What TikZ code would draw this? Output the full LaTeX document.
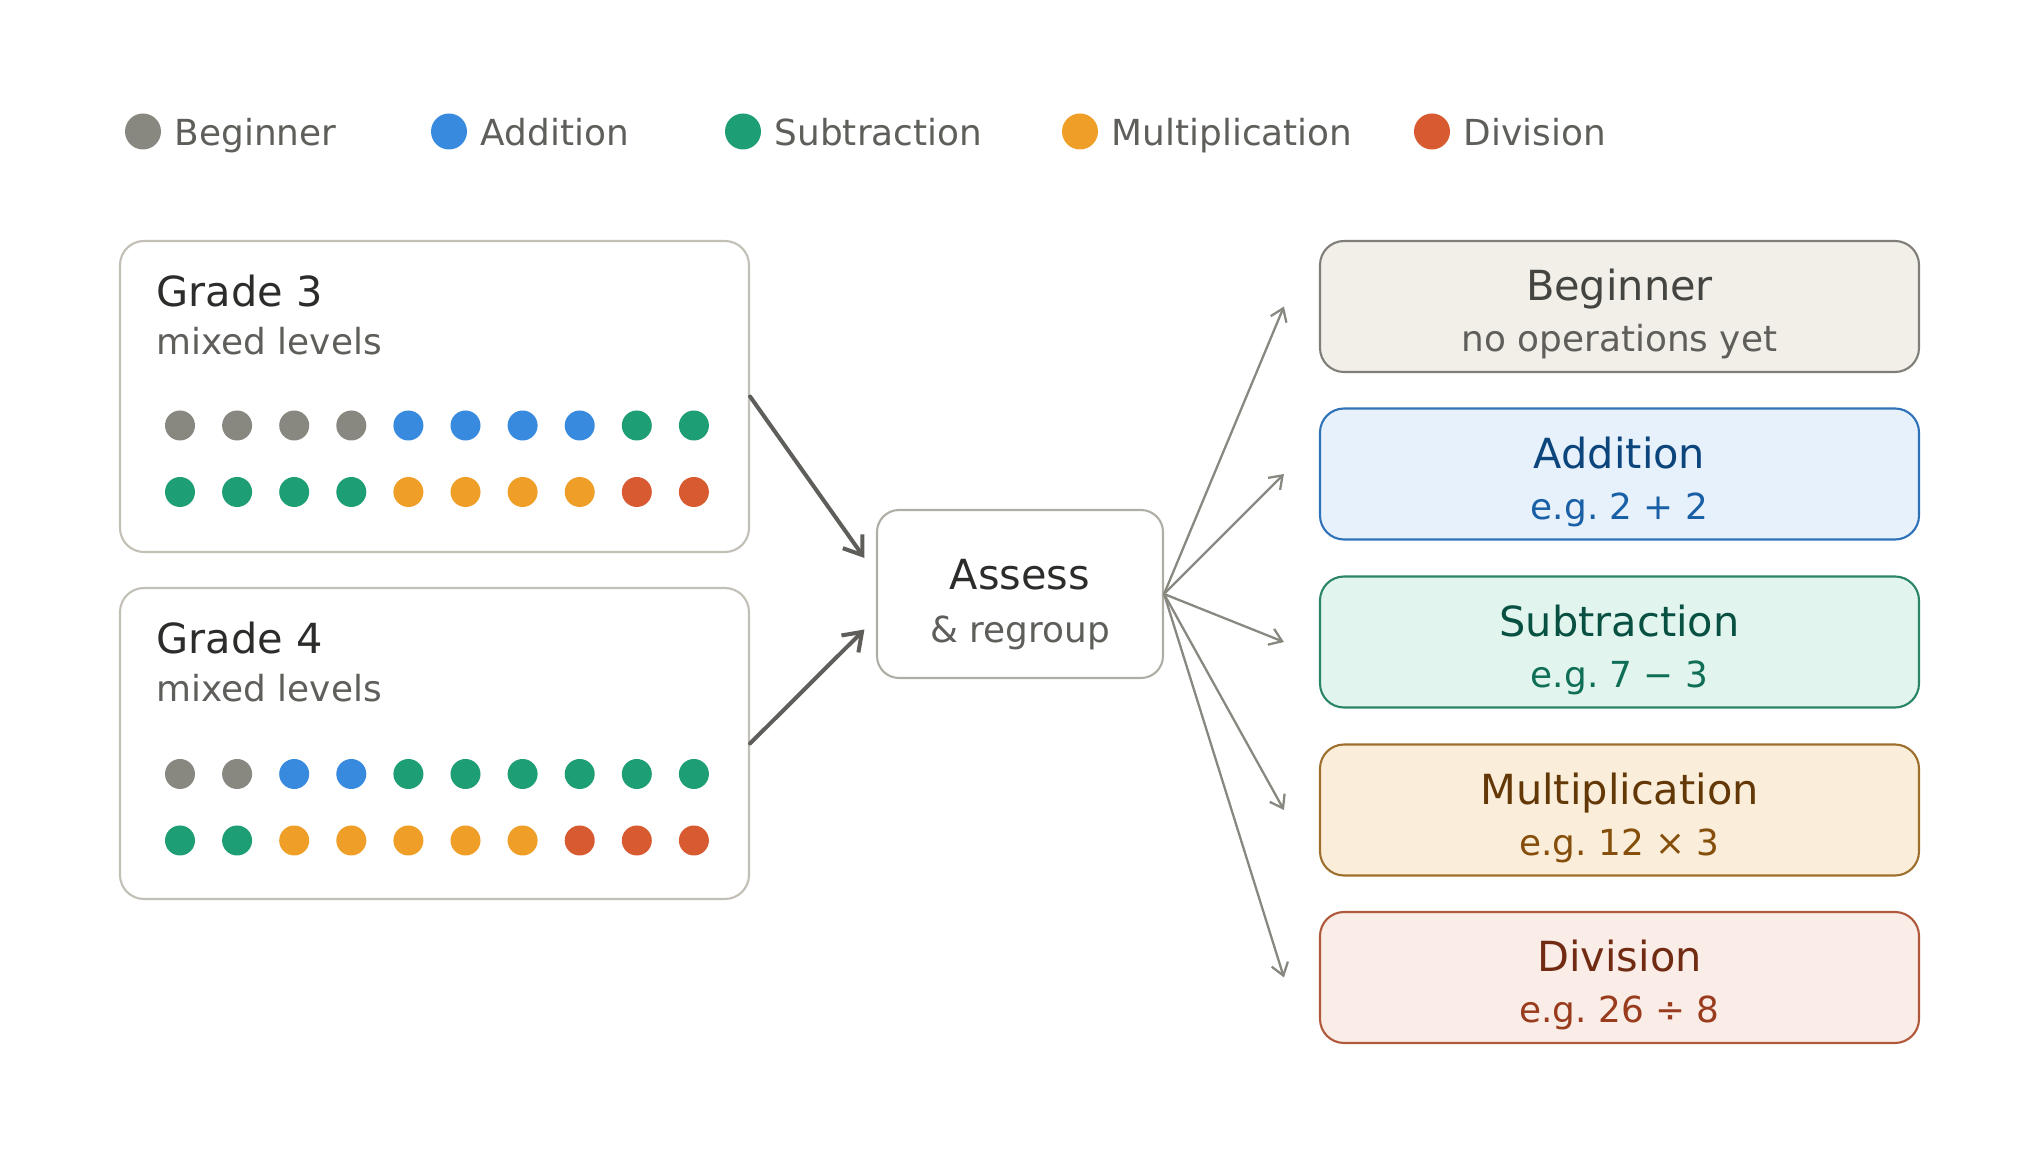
\documentclass[tikz,border=0pt]{standalone}
\usepackage{fontspec}
\setmainfont{DejaVu Sans}
\usetikzlibrary{arrows.meta,positioning,calc}
\definecolor{cgrey}{HTML}{888780}
\definecolor{cblue}{HTML}{378ADD}
\definecolor{cgreen}{HTML}{1D9E75}
\definecolor{corange}{HTML}{EF9F27}
\definecolor{cred}{HTML}{D85A30}
\definecolor{inkdark}{HTML}{2C2C2A}
\definecolor{inkmid}{HTML}{5F5E5A}
\definecolor{grpline}{HTML}{C2C0B6}
\definecolor{begfill}{HTML}{F1EFE8}\definecolor{begline}{HTML}{7F7E78}
\definecolor{begtitle}{HTML}{444441}\definecolor{begsub}{HTML}{5F5E5A}
\definecolor{addfill}{HTML}{E6F1FB}\definecolor{addline}{HTML}{2F72B8}
\definecolor{addtitle}{HTML}{0C447C}\definecolor{addsub}{HTML}{185FA5}
\definecolor{subfill}{HTML}{E1F5EE}\definecolor{subline}{HTML}{2A8468}
\definecolor{subtitle}{HTML}{085041}\definecolor{subsub}{HTML}{0F6E56}
\definecolor{mulfill}{HTML}{FAEEDA}\definecolor{mulline}{HTML}{9E6F2C}
\definecolor{multitle}{HTML}{633806}\definecolor{mulsub}{HTML}{854F0B}
\definecolor{divfill}{HTML}{FAECE7}\definecolor{divline}{HTML}{B0583A}
\definecolor{divtitle}{HTML}{712B13}\definecolor{divsub}{HTML}{993C1D}

\begin{document}
\begin{tikzpicture}[
  legdot/.style={circle, inner sep=0pt, minimum size=0.36cm},
  legtext/.style={inner sep=0pt, anchor=base west, text=inkmid, font=\fontsize{10.2}{12}\selectfont},
  grpbox/.style={draw=grpline, fill=white, line width=0.6pt, rounded corners=0.24cm, minimum width=6.29cm, minimum height=3.11cm, inner sep=0pt},
  bigtext/.style={inner sep=0pt, anchor=base, text=inkdark, font=\fontsize{11.8}{14}\selectfont},
  smalltext/.style={inner sep=0pt, anchor=base, text=inkmid, font=\fontsize{10.2}{12}\selectfont\frenchspacing},
  hubbox/.style={draw=grpline!90!black, fill=white, line width=0.6pt, rounded corners=0.22cm, minimum width=2.86cm, minimum height=1.68cm, inner sep=0pt},
  opbox/.style={line width=0.6pt, rounded corners=0.24cm, minimum width=5.99cm, minimum height=1.31cm, inner sep=0pt},
  inarr/.style={-{Straight Barb[length=1.7mm, width=2.4mm]}, line width=1.15pt, inkmid, line cap=round, line join=round},
  fanarr/.style={-{Straight Barb[length=1.2mm, width=1.7mm]}, line width=0.65pt, cgrey, line cap=round, line join=round}]
\useasboundingbox (0,0) rectangle (20.4,-11.64);
% legend
\foreach \x/\c/\t in {1.43/cgrey/Beginner, 4.49/cblue/Addition, 7.43/cgreen/Subtraction, 10.80/corange/Multiplication, 14.32/cred/Division}{
  \node[legdot, fill=\c] (d\c) at (\x,-1.315) {};
  \node[legtext] (t\c) at ($(d\c.center)+(0.31,-0.138)$) {\t};
}
% grade groups
\node[grpbox] (g3) at (4.345,-3.965) {};
\node[grpbox] (g4) at (4.345,-7.435) {};
\node[bigtext, anchor=base west] (g3t) at ($(g3.north west)+(0.37,-0.665)$) {Grade 3};
\node[smalltext, anchor=base west] (g3s) at ($(g3.north west)+(0.37,-1.145)$) {mixed levels};
\node[bigtext, anchor=base west] (g4t) at ($(g4.north west)+(0.37,-0.665)$) {Grade 4};
\node[smalltext, anchor=base west] (g4s) at ($(g4.north west)+(0.37,-1.145)$) {mixed levels};
\foreach \c [count=\i from 0] in {cgrey,cgrey,cgrey,cgrey,cblue,cblue,cblue,cblue,cgreen,cgreen}
  \fill[\c] (1.8+0.571*\i,-4.255) circle (0.15);
\foreach \c [count=\i from 0] in {cgreen,cgreen,cgreen,cgreen,corange,corange,corange,corange,cred,cred}
  \fill[\c] (1.8+0.571*\i,-4.92) circle (0.15);
\foreach \c [count=\i from 0] in {cgrey,cgrey,cblue,cblue,cgreen,cgreen,cgreen,cgreen,cgreen,cgreen}
  \fill[\c] (1.8+0.571*\i,-7.74) circle (0.15);
\foreach \c [count=\i from 0] in {cgreen,cgreen,corange,corange,corange,corange,corange,cred,cred,cred}
  \fill[\c] (1.8+0.571*\i,-8.405) circle (0.15);
% assessment
\node[hubbox] (hub) at (10.20,-5.94) {};
\node[bigtext] (hubt) at ($(hub.center)+(0,0.045)$) {Assess};
\node[smalltext] (hubs) at ($(hub.center)+(0,-0.49)$) {\& regroup};
\draw[inarr] (g3.east) -- ($(hub.west)+(-0.115,0.36)$);
\draw[inarr] (g4.east) -- ($(hub.west)+(-0.115,-0.355)$);
% level groups
\foreach \n/\y/\ttl/\stl in {beg/-3.065/Beginner/no operations yet, add/-4.74/Addition/e.g. 2 + 2, sub/-6.42/Subtraction/e.g. 7 − 3, mul/-8.10/Multiplication/e.g. 12 × 3, div/-9.775/Division/e.g. 26 ÷ 8}{
  \node[opbox, fill=\n fill, draw=\n line] (\n) at (16.195,\y) {};
  \node[bigtext, text=\n title] (\n t) at ($(\n.center)+(0,0.055)$) {\ttl};
  \node[smalltext, text=\n sub] (\n s) at ($(\n.center)+(0,-0.452)$) {\stl};
  \draw[fanarr] (hub.east) -- ([xshift=-0.35cm]\n.west);
}
\end{tikzpicture}
\end{document}
